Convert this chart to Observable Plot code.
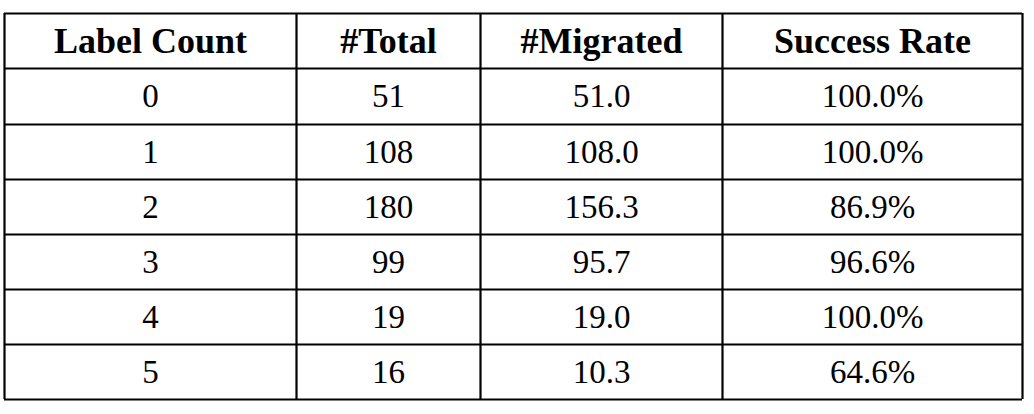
<!DOCTYPE html>
<html>
<head>
<meta charset="utf-8">
<script src="https://cdn.jsdelivr.net/npm/d3@7"></script>
<script src="https://cdn.jsdelivr.net/npm/@observablehq/plot@0.6"></script>
<style>body{margin:0;background:#fff}</style>
</head>
<body>
<div id="chart"></div>
<script>
const headers = ['Label Count', '#Total', '#Migrated', 'Success Rate']
const labelCount = ['0', '1', '2', '3', '4', '5']
const total = ['51', '108', '180', '99', '19', '16']
const migrated = ['51.0', '108.0', '156.3', '95.7', '19.0', '10.3']
const successRate = ['100.0%', '100.0%', '86.9%', '96.6%', '100.0%', '64.6%']

// layout (pixel units)
const colEdges = [4, 296, 480, 722, 1022]
const rowEdges = [13, 68, 124, 179, 234, 289, 344, 399]
const colCenter = i => (colEdges[i] + colEdges[i + 1]) / 2
const rowCenter = i => (rowEdges[i] + rowEdges[i + 1]) / 2

const columns = [labelCount, total, migrated, successRate]
const cells = []
columns.forEach((col, c) => col.forEach((v, r) => cells.push({c, r: r + 1, v})))
const heads = headers.map((h, c) => ({c, r: 0, v: h}))

const font = '"Liberation Serif", "DejaVu Serif", serif'

let chart = Plot.plot({
  width: 1034, height: 414,
  margin: 0,
  x: {domain: [0, 1034], axis: null},
  y: {domain: [414, 0], axis: null},
  style: {fontFamily: font, background: '#fff'},
  marks: [
    Plot.ruleY(rowEdges, {x1: colEdges[0], x2: colEdges[4], stroke: '#000', strokeWidth: 2.2}),
    Plot.ruleX(colEdges, {y1: rowEdges[0], y2: rowEdges[7], stroke: '#000', strokeWidth: 2.2}),
    Plot.text(heads, {x: d => colCenter(d.c), y: d => rowCenter(d.r), text: 'v',
      fontSize: 36, fontWeight: 'bold', fill: '#000', dy: 0}),
    Plot.text(cells, {x: d => colCenter(d.c), y: d => rowCenter(d.r), text: 'v',
      fontSize: 33, fill: '#000'}),
  ],
})

d3.select('#chart').append(() => chart)
</script>
</body>
</html>
